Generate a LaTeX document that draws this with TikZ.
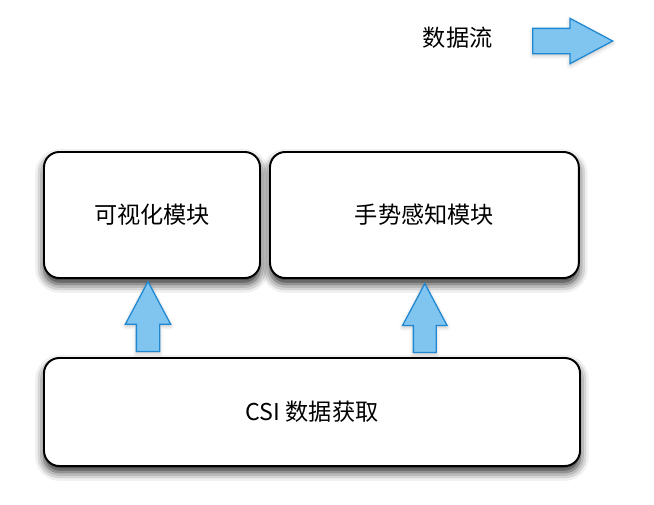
\documentclass[tikz,border=0pt]{standalone}
\usepackage{fontspec}
\setmainfont{Noto Sans CJK SC}
\usepackage{xcolor}
\definecolor{flowblue}{HTML}{80C4F0}
\definecolor{flowedge}{HTML}{1E88D2}
\usetikzlibrary{shapes.arrows, shadows.blur}

\begin{document}
\begin{tikzpicture}[every node/.style={font=\fontsize{16.5}{20}\selectfont},
  module/.style={draw, line width=1.4pt, rounded corners=0.38cm, fill=white, blur shadow={shadow xshift=0pt, shadow yshift=-0.15cm, shadow blur radius=0.22cm, shadow opacity=85}},
  flow/.style={single arrow, draw=flowedge, line width=0.9pt, fill=flowblue, single arrow tip angle=56, blur shadow={shadow xshift=0pt, shadow yshift=-0.05cm, shadow blur radius=0.1cm, shadow opacity=25}}]
  \useasboundingbox (0,0) rectangle (16.35,-12.6);

  % legend
  \node (legendtext) at (11.44,-0.95) {数据流};
  \node[flow, inner sep=0.3cm, minimum height=2.0cm, single arrow head extend=0.25cm, anchor=tail] (legendarrow) at (13.3,-1.025) {};

  % upper modules
  \node[module, minimum width=5.4cm, minimum height=3.15cm] (vis) at (3.8,-5.375) {可视化模块};
  \node[module, minimum width=7.72cm, minimum height=3.15cm] (gesture) at (10.61,-5.375) {手势感知模块};

  % data acquisition
  \node[module, minimum width=13.4cm, minimum height=2.7cm] (csi) at (7.8,-10.3) {CSI 数据获取};

  % data flow up to the modules
  \node[flow, inner sep=0.275cm, minimum height=1.75cm, single arrow head extend=0.275cm, shape border rotate=90, anchor=tail] (visflow) at ([xshift=-0.1cm,yshift=0.12cm]csi.north -| vis.south) {};
  \node[flow, inner sep=0.27cm, minimum height=1.72cm, single arrow head extend=0.27cm, shape border rotate=90, anchor=tail] (gestureflow) at ([xshift=0.01cm,yshift=0.1cm]csi.north -| gesture.south) {};
\end{tikzpicture}
\end{document}
